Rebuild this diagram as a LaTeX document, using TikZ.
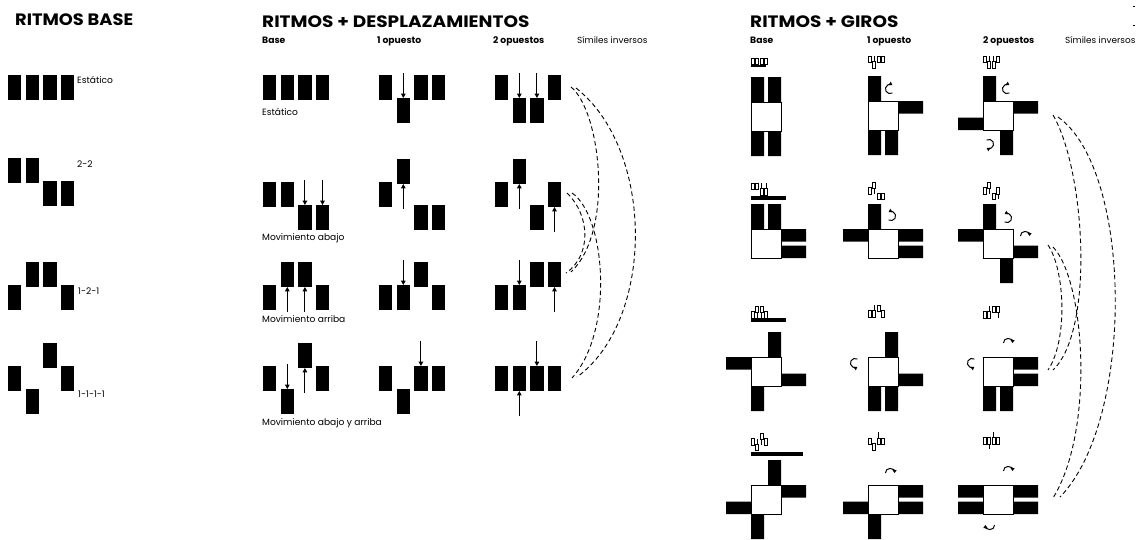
\documentclass[tikz,border=0pt]{standalone}
\usepackage{fontspec}
\setmainfont{Poppins}
\usetikzlibrary{arrows.meta}

% four blocks of a rhythm: x, y of the base level, list of levels
\newcommand{\ritmo}[3]{%
  \foreach \l [count=\k from 0] in {#3} {%
    \fill[blk] ({#1+17.6*\k},{#2+23*\l}) rectangle ++(13.4,25);}}
% small outline version of a rhythm
\newcommand{\minirit}[3]{%
  \foreach \l [count=\k from 0] in {#3} {%
    \draw[mini] ({#1+4.4*\k},{#2+5.6*\l}) rectangle ++(3.3,6.2);}}
% small displacement marks: x, y of the icon, block index, level reached
\newcommand{\minab}[4]{\draw[minarr] ({#1+4.4*#3+1.65},{#2+5.6*#4-5.6}) -- ++(0,5.6);}
\newcommand{\minar}[4]{\draw[minarr] ({#1+4.4*#3+1.65},{#2+5.6*#4+6.2}) -- ++(0,5.6);}
% displacement arrows: x, y of the edge they point to
\newcommand{\abajo}[2]{\draw[arr] (#1,{#2-25}) -- (#1,#2);}
\newcommand{\arriba}[2]{\draw[arr] (#1,{#2+25}) -- (#1,#2);}
% square with its arms: x, y of the square, list of arm slots
\newcommand{\giro}[3]{%
  \fill[blk, shift={(#1,#2)}, #3];
  \draw[sqr] (#1,#2) rectangle ++(30,29);}
% small turning arrow: centre x, y, start and end angle
\newcommand{\vuelta}[4]{%
  \draw[rot] ([shift={(#3:4.6)}]#1,#2) arc[start angle=#3, end angle=#4, radius=4.6];}

\begin{document}
\begin{tikzpicture}[x=1pt, y=-1pt,
  blk/.style={fill=black},
  mini/.style={draw=black, line width=0.45pt, fill=white},
  minarr/.style={draw=black, line width=0.5pt},
  sqr/.style={draw=black, line width=0.9pt, fill=white},
  arr/.style={line width=0.9pt, -{Triangle[width=4.6pt,length=4.4pt]}},
  rot/.style={line width=1pt, -{Triangle[width=4pt,length=3pt]}},
  sim/.style={line width=0.9pt, dash pattern=on 4.5pt off 3pt},
  ttl/.style={anchor=base west, inner sep=0pt, font=\bfseries\fontsize{16.5}{18}\selectfont},
  hdr/.style={anchor=base west, inner sep=0pt, font=\bfseries\fontsize{9.2}{10}\selectfont},
  lbl/.style={anchor=base west, inner sep=0pt, font=\fontsize{9.1}{10}\selectfont},
  armTa/.style={insert path={(0,-25) rectangle (13,0)}},
  armTb/.style={insert path={(17,-25) rectangle (30,0)}},
  armBa/.style={insert path={(0,29) rectangle (13,54)}},
  armBb/.style={insert path={(17,29) rectangle (30,54)}},
  armRa/.style={insert path={(30,0) rectangle (55,12.5)}},
  armRb/.style={insert path={(30,16.5) rectangle (55,29)}},
  armLa/.style={insert path={(-25,0) rectangle (0,12.5)}},
  armLb/.style={insert path={(-25,16.5) rectangle (0,29)}},
]
\useasboundingbox[fill=white] (0,0) rectangle (1142,539);

% ---------------- RITMOS BASE ----------------
\node[ttl] (tBase) at (15,25) {\scalebox{1.08}[1]{RITMOS BASE}};
\ritmo{8}{75}{0,0,0,0}
\ritmo{8}{158}{0,0,1,1}
\ritmo{8}{262}{1,0,0,1}
\ritmo{8}{366}{0,1,-1,0}
\node[lbl] (bEst) at (77,83) {Estático};
\node[lbl] (b22) at (77,167) {2-2};
\node[lbl] (b121) at (78,294) {1-2-1};
\node[lbl] (b1111) at (78,397) {1-1-1-1};

% ---------------- RITMOS + DESPLAZAMIENTOS ----------------
\node[ttl] (tDesp) at (262,27) {\scalebox{1.12}[1]{RITMOS + DESPLAZAMIENTOS}};
\node[hdr] (dBase) at (262,43) {Base};
\node[hdr] (d1) at (377,43) {1 opuesto};
\node[hdr] (d2) at (493,43) {2 opuestos};
\node[lbl, font=\fontsize{8.9}{10}\selectfont] (dSim) at (577,43) {Símiles inversos};

% base column
\ritmo{263}{75}{0,0,0,0}
\ritmo{263}{182}{0,0,1,1}
\abajo{304.9}{205}\abajo{322.5}{205}
\ritmo{263}{285}{0,-1,-1,0}
\arriba{287.3}{287}\arriba{304.9}{287}
\ritmo{263}{366}{0,1,-1,0}
\abajo{287.3}{389}\arriba{304.9}{368}
\node[lbl] (mEst) at (262,115) {Estático};
\node[lbl] (mAb) at (262,240) {Movimiento abajo};
\node[lbl] (mAr) at (262,322) {Movimiento arriba};
\node[lbl] (mAA) at (262,425) {Movimiento abajo y arriba};

% one opposite
\ritmo{379}{75}{0,1,0,0}
\abajo{403.3}{98}
\ritmo{379}{182}{0,-1,1,1}
\arriba{403.3}{184}
\ritmo{379}{285}{0,0,-1,0}
\abajo{403.3}{285}
\ritmo{379}{366}{0,1,0,0}
\abajo{420.9}{366}

% two opposites
\ritmo{495}{75}{0,1,1,0}
\abajo{519.3}{98}\abajo{536.9}{98}
\ritmo{495}{182}{0,-1,1,0}
\arriba{519.3}{184}\arriba{554.5}{207}
\ritmo{495}{285}{0,0,-1,-1}
\abajo{519.3}{285}\arriba{554.5}{287}
\ritmo{495}{366}{0,0,0,0}
\abajo{536.9}{366}\arriba{519.3}{391}

% similar inverses
\coordinate (m1a) at (571,87);   \coordinate (m1b) at (576,88);
\coordinate (m2a) at (567,193);  \coordinate (m2b) at (572,193);
\coordinate (m3a) at (566,273);  \coordinate (m3b) at (571,272);
\coordinate (m4a) at (572,378);  \coordinate (m4b) at (577,377);
\draw[sim] (m1a) .. controls (600,110) and (615,230) .. (m3b);
\draw[sim] (m1b) .. controls (655,150) and (655,320) .. (m4b);
\draw[sim] (m2a) .. controls (590,215) and (592,255) .. (m3a);
\draw[sim] (m2b) .. controls (605,215) and (615,330) .. (m4a);

% ---------------- RITMOS + GIROS ----------------
\node[ttl] (tGiro) at (750,27) {\scalebox{1.12}[1]{RITMOS + GIROS}};
\node[hdr] (gBase) at (750,43) {Base};
\node[hdr] (g1) at (867,43) {1 opuesto};
\node[hdr] (g2) at (983,43) {2 opuestos};
\node[lbl, font=\fontsize{8.9}{10}\selectfont] (gSim) at (1065,43) {Símiles inversos};
\draw[line width=0.6pt] (1133,6) -- (1135,6) (1133,25.5) -- (1135,25.5);

% base column
\minirit{751}{58}{0,0,0,0}
\fill[blk] (751,64.6) rectangle (766,67.4);
\giro{751}{102}{armTa,armTb,armBa,armBb}
\minirit{751}{183}{0,0,1,1}
\minab{751}{183}{2}{1}\minab{751}{183}{3}{1}
\fill[blk] (751,196) rectangle (786,200);
\giro{751}{229}{armTa,armTb,armRa,armRb}
\minirit{751}{306}{1,0,0,1}
\minar{751}{306}{1}{0}\minar{751}{306}{2}{0}
\fill[blk] (751,317.8) rectangle (786,321.8);
\giro{751}{357}{armTb,armLa,armRb,armBa}
\minirit{751}{433}{1,2,0,1}
\minab{751}{433}{1}{2}\minar{751}{433}{2}{0}
\fill[blk] (751,451.5) rectangle (803,455.5);
\giro{751}{485}{armTb,armRa,armLb,armBa}

% one opposite
\minirit{868}{56}{0,1,0,0}
\minab{868}{56}{1}{1}
\giro{868}{101}{armTa,armRa,armBa,armBb}
\vuelta{890}{89}{60}{300}
\minirit{868}{182}{1,0,2,2}
\minar{868}{182}{1}{0}
\giro{868}{229}{armTa,armLa,armRa,armRb}
\vuelta{891}{216}{120}{-120}
\minirit{868}{305}{1,1,0,1}
\minab{868}{305}{1}{1}
\giro{868}{357}{armTb,armRb,armBa,armBb}
\vuelta{855}{363}{-60}{-300}
\minirit{868}{438}{0,1,0,0}
\minab{868}{438}{2}{0}
\giro{868}{485}{armRa,armRb,armLb,armBa}
\vuelta{890}{473}{-180}{0}

% two opposites
\minirit{983}{56}{0,1,1,0}
\minab{983}{56}{1}{1}\minab{983}{56}{2}{1}
\giro{983}{101}{armTa,armRa,armLb,armBb}
\vuelta{1007}{89}{60}{300}
\vuelta{989}{144}{-120}{120}
\minirit{983}{182}{1,0,2,1}
\minar{983}{182}{1}{0}\minar{983}{182}{3}{1}
\giro{983}{229}{armTa,armLa,armRb,armBb}
\vuelta{1007}{218}{120}{-120}
\vuelta{1025}{236}{-180}{0}
\minirit{983}{306}{1,1,0,0}
\minab{983}{306}{1}{1}\minar{983}{306}{3}{0}
\giro{983}{357}{armRa,armRb,armBa,armBb}
\vuelta{1008}{343}{-180}{0}
\vuelta{972}{363}{-60}{-300}
\minirit{983}{437.6}{0,0,0,0}
\minab{983}{437.6}{2}{0}\minar{983}{437.6}{1}{0}
\giro{983}{485}{armRa,armRb,armLa,armLb}
\vuelta{1008}{471}{-180}{0}
\vuelta{990}{525}{0}{180}

% similar inverses
\coordinate (g1a) at (1053,115);  \coordinate (g1b) at (1058,117);
\coordinate (g2a) at (1048,245);  \coordinate (g2b) at (1053,247);
\coordinate (g3a) at (1048,370);  \coordinate (g3b) at (1053,370);
\coordinate (g4a) at (1053,498);  \coordinate (g4b) at (1060,497);
\draw[sim] (g1a) .. controls (1085,170) and (1095,330) .. (g3b);
\draw[sim] (g1b) .. controls (1133,170) and (1135,420) .. (g4b);
\draw[sim] (g2a) .. controls (1065,270) and (1068,340) .. (g3a);
\draw[sim] (g2b) .. controls (1085,280) and (1095,430) .. (g4a);
\end{tikzpicture}
\end{document}
